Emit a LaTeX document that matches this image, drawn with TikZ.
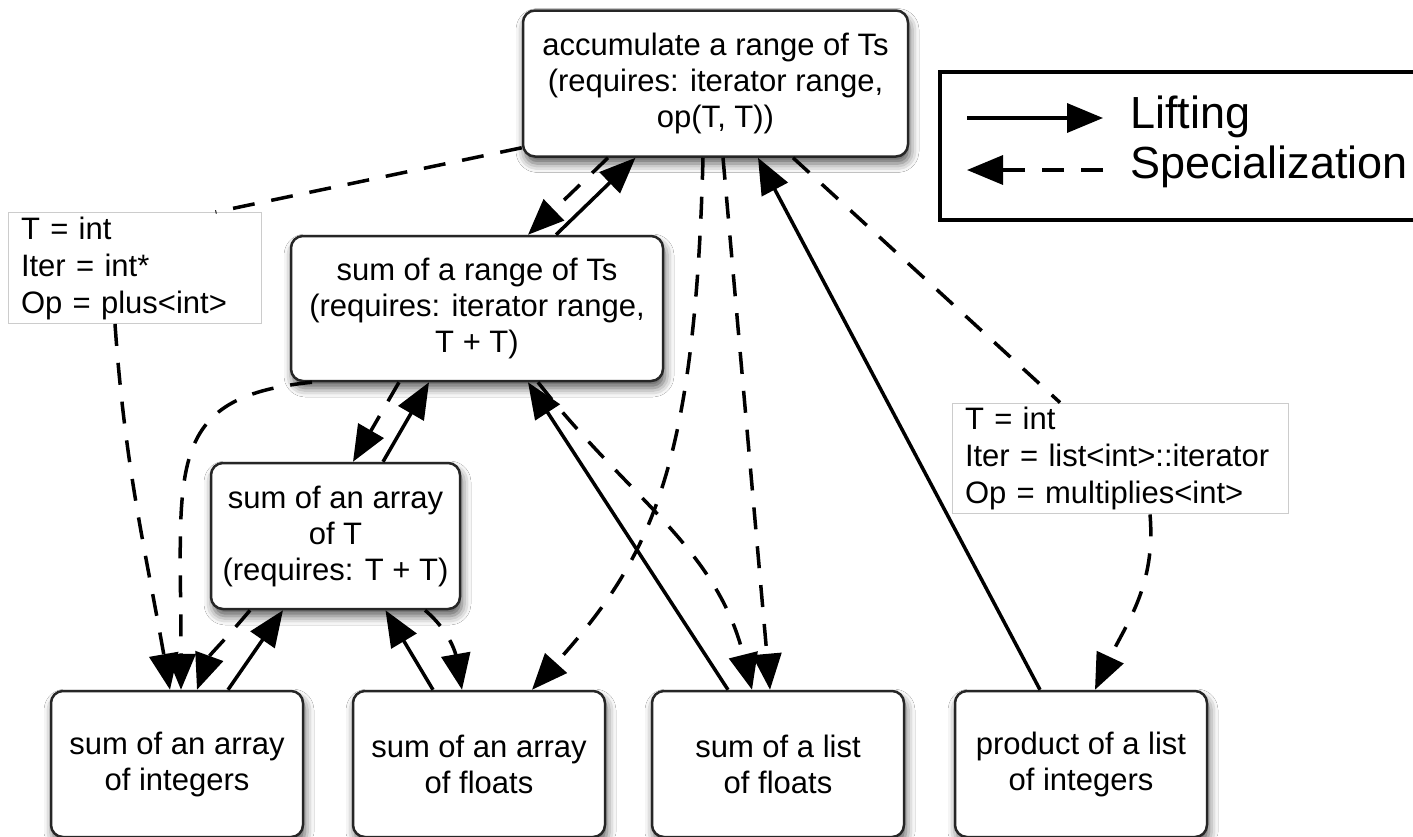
\documentclass[tikz,border=0pt]{standalone}
\usepackage{fontspec}
\setmainfont{Liberation Sans}
\usetikzlibrary{arrows.meta,shadows.blur}

\begin{document}
\begin{tikzpicture}[x=1pt,y=1pt]
\useasboundingbox (0,0) rectangle (1413,-836);
\fill[white] (0,0) rectangle (1413,-836);
\tikzstyle{box}=[draw=black!85,line width=2.5pt,rounded corners=12pt,fill=white,align=center,
  font=\fontsize{31}{36}\selectfont,inner sep=0pt,minimum height=146pt,minimum width=252pt,
  blur shadow={shadow xshift=2pt,shadow yshift=-7pt,shadow blur radius=9pt,shadow opacity=65}];
\tikzstyle{note}=[draw=black!20,line width=1pt,fill=white,align=left,
  font=\fontsize{31}{37}\selectfont,inner xsep=13pt,inner ysep=4pt];
\tikzstyle{lift}=[line width=3.5pt,-{Triangle[length=36pt,width=29pt]}];
\tikzstyle{spec}=[line width=3.5pt,dash pattern=on 22pt off 17pt,-{Triangle[length=36pt,width=29pt]}];
\node[box,minimum width=385pt] (acc) at (715.5,-83.5) {accumulate a range of Ts\\(requires: iterator range,\\op(T, T))};
\node[box,minimum width=372pt,minimum height=145pt] (rng) at (477,-308.5) {sum of a range of Ts\\(requires: iterator range,\\T + T)};
\node[box,minimum width=249pt] (arrT) at (335.5,-536) {sum of an array\\of T\\(requires: T + T)};
\node[box] (arrI) at (177,-764) {sum of an array\\of integers};
\node[box] (arrF) at (479,-764) {sum of an array\\of floats};
\node[box] (lstF) at (778,-764) {sum of a list\\of floats};
\node[box] (lstI) at (1081,-764) {product of a list\\of integers};
\node[note,text width=227pt] (n1) at (134.5,-268) {T = int\\Iter = int*\\Op = plus<int>};
\node[note,text width=310pt] (n2) at (1120,-458.5) {T = int\\Iter = list<int>::iterator\\Op = multiplies<int>};
% legend
\draw[line width=4pt] (940,-72) rectangle (1460,-220);
\coordinate (l1) at (967,-118);
\coordinate (l2) at (1103,-118);
\coordinate (s1) at (1103,-170);
\coordinate (s2) at (967,-170);
\draw[lift] (l1) -- (l2);
\draw[spec] (s1) -- (s2);
\node[anchor=base west,inner sep=0pt,font=\fontsize{45}{54}\selectfont] (tl) at (1130,-128) {Lifting};
\node[anchor=base west,inner sep=0pt,font=\fontsize{45}{54}\selectfont] (ts) at (1130,-178) {Specialization};
% lifting
\draw[lift] ([xshift=79pt]rng.north) -- ([xshift=-80pt]acc.south);
\draw[lift] ([xshift=47.5pt]arrT.north) -- ([xshift=-48pt]rng.south);
\draw[lift] ([xshift=51pt]arrI.north) -- ([xshift=-52.5pt]arrT.south);
\draw[lift] ([xshift=-46pt]arrF.north) -- ([xshift=50pt]arrT.south);
\draw[lift] ([xshift=-50pt]lstF.north) -- ([xshift=51pt]rng.south);
\draw[lift] ([xshift=-41pt]lstI.north) -- ([xshift=42.5pt]acc.south);
% specialization
\draw[spec] ([xshift=-107.5pt]acc.south) -- ([xshift=51pt]rng.north);
\draw[spec] ([xshift=-78pt]rng.south) -- ([xshift=17.5pt]arrT.north);
\draw[spec] ([xshift=-85.5pt]arrT.south) to[out=-130,in=70] ([xshift=20pt]arrI.north);
\draw[spec] ([xshift=89.5pt]arrT.south) to[out=-40,in=100] ([xshift=-17pt]arrF.north);
\draw[spec] ([xshift=-165pt]rng.south) .. controls +(-150,-15) and +(0,220) .. ([xshift=4pt]arrI.north);
\draw[spec] ([xshift=61pt]rng.south) to[out=-52,in=104] ([xshift=-26pt]lstF.north);
\draw[spec] ([xshift=-12.5pt]acc.south) .. controls +(-8,-313) and +(118,131) .. ([xshift=53pt]arrF.north);
\draw[spec] ([xshift=7.5pt]acc.south) -- ([xshift=-8pt]lstF.north);
\draw[spec,-] ([yshift=10pt]acc.south west) -- ([xshift=81pt]n1.north);
\draw[spec] ([xshift=-19.5pt]n1.south) to[out=-86,in=100] ([xshift=-7pt]arrI.north);
\draw[spec,-] ([xshift=77.5pt]acc.south) -- ([xshift=-60pt]n2.north);
\draw[spec] ([xshift=30pt]n2.south) to[out=-85,in=65] ([xshift=14pt]lstI.north);
\end{tikzpicture}
\end{document}
